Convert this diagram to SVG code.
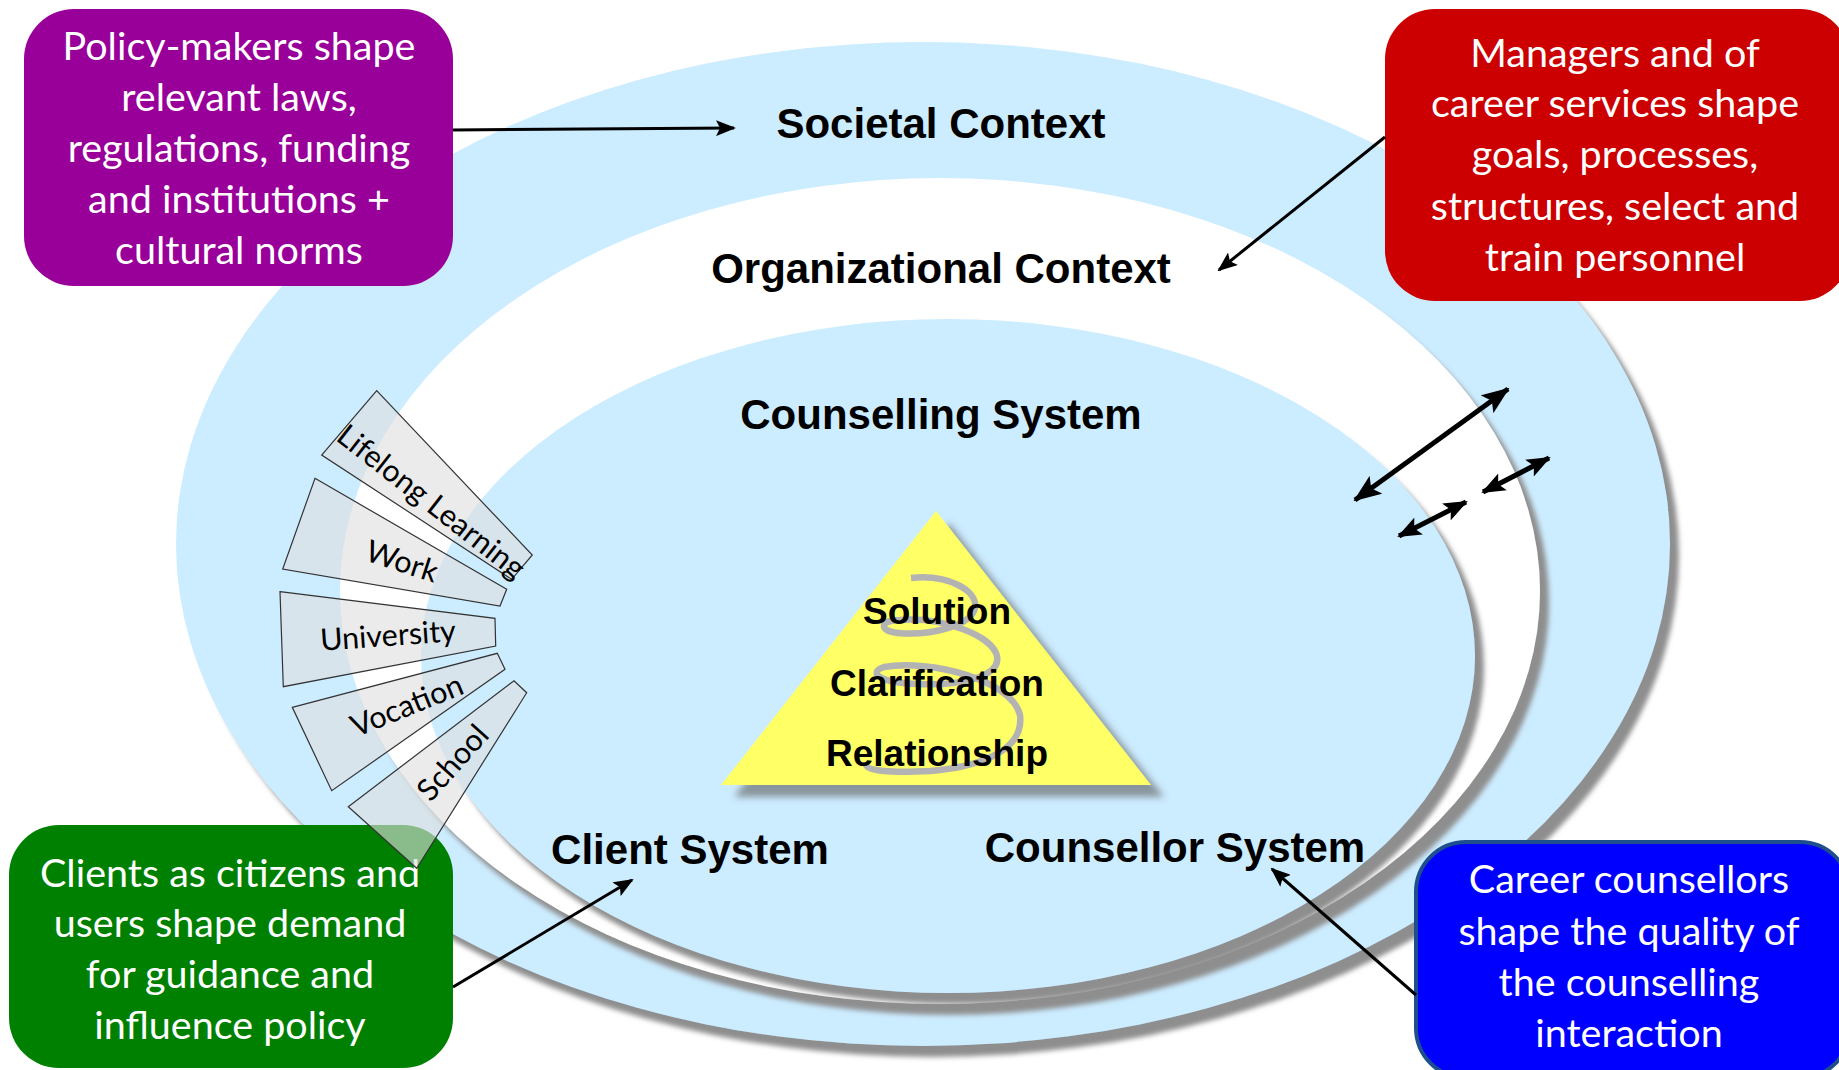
<svg xmlns="http://www.w3.org/2000/svg" width="1839" height="1070" viewBox="0 0 1839 1070">
<defs>
  <filter id="ellShadow" x="-5%" y="-5%" width="112%" height="112%">
    <feDropShadow dx="9" dy="11" stdDeviation="2.5" flood-color="#8e8e8e" flood-opacity="1"/>
  </filter>
  <filter id="triShadow" x="-10%" y="-10%" width="125%" height="130%">
    <feDropShadow dx="13" dy="12" stdDeviation="3.5" flood-color="#5a5a5a" flood-opacity="0.6"/>
  </filter>
  <marker id="arr" viewBox="0 0 20 16" refX="18" refY="8" markerWidth="20" markerHeight="16" markerUnits="userSpaceOnUse" orient="auto-start-reverse">
    <path d="M0,0 L20,8 L0,16 L4,8 Z" fill="#000"/>
  </marker>
  <marker id="arrBig" viewBox="0 0 28 22" refX="26" refY="11" markerWidth="28" markerHeight="22" markerUnits="userSpaceOnUse" orient="auto-start-reverse">
    <path d="M0,0 L28,11 L0,22 L6,11 Z" fill="#000"/>
  </marker>
  <marker id="arrMid" viewBox="0 0 24 19" refX="22" refY="9.5" markerWidth="24" markerHeight="19" markerUnits="userSpaceOnUse" orient="auto-start-reverse">
    <path d="M0,0 L24,9.5 L0,19 L5,9.5 Z" fill="#000"/>
  </marker>
  <style>
    .ctx { font-family: "Liberation Sans", Arial, sans-serif; font-weight: bold; font-size: 42px; fill: #000; text-anchor: middle; }
    .tri { font-family: "Liberation Sans", Arial, sans-serif; font-weight: bold; font-size: 37px; fill: #000; text-anchor: middle; }
    .box { font-family: Lato, "Noto Sans", sans-serif; font-size: 39.5px; fill: #fff; text-anchor: middle; }
    .fan { fill: #dedede; fill-opacity: 0.62; stroke: #333; stroke-width: 1.2; }
    .fant { font-family: Lato, "Noto Sans", sans-serif; font-size: 30.5px; fill: #000; text-anchor: middle; }
    .conn { stroke: #000; stroke-width: 3; fill: none; }
    .dbl { stroke: #000; stroke-width: 5; fill: none; }
  </style>
</defs>
<rect width="1839" height="1070" fill="#fff"/>

<g id="societal-context">
  <ellipse cx="923" cy="544" rx="747" ry="502" fill="#CCECFF" filter="url(#ellShadow)"/>
  <text class="ctx" x="941" y="138">Societal Context</text>
</g>
<g id="organizational-context">
  <ellipse cx="940" cy="591" rx="600" ry="413" fill="#fff" filter="url(#ellShadow)"/>
  <text class="ctx" x="941" y="283">Organizational Context</text>
</g>
<g id="counselling-system">
  <ellipse cx="948" cy="656" rx="527" ry="337" fill="#CCECFF" filter="url(#ellShadow)"/>
  <text class="ctx" x="941" y="429">Counselling System</text>
  <text class="ctx" x="690" y="864">Client System</text>
  <text class="ctx" x="1175" y="862">Counsellor System</text>
</g>

<g id="triangle">
  <polygon points="936,511 1151,785 721,785" fill="#FFFF66" filter="url(#triShadow)"/>
  <path d="M911,578 C947,574 978,590 975,608 C971,626 930,636 898,633 C878,631 880,620 900,620 C942,617 992,635 997,656 C1001,677 960,686 918,684 C878,683 868,672 884,667 C930,659 1012,680 1020,715 C1024,746 990,766 930,771 C890,773 868,771 866,765" fill="none" stroke="#b3b3b3" stroke-width="6.5"/>
  <text class="tri" x="937" y="624">Solution</text>
  <text class="tri" x="937" y="696">Clarification</text>
  <text class="tri" x="937" y="766">Relationship</text>
</g>

<g id="policy-box">
  <rect x="24" y="9" width="429" height="277" rx="50" fill="#990099"/>
  <text class="box" x="239" y="60">Policy-makers shape</text>
  <text class="box" x="239" y="111">relevant laws,</text>
  <text class="box" x="239" y="162">regulations, funding</text>
  <text class="box" x="239" y="213">and institutions +</text>
  <text class="box" x="239" y="264">cultural norms</text>
</g>
<g id="managers-box">
  <rect x="1385" y="9" width="465" height="292" rx="50" fill="#CC0000"/>
  <text class="box" x="1615" y="67">Managers and of</text>
  <text class="box" x="1615" y="117">career services shape</text>
  <text class="box" x="1615" y="168">goals, processes,</text>
  <text class="box" x="1615" y="220">structures, select and</text>
  <text class="box" x="1615" y="271">train personnel</text>
</g>
<g id="clients-box">
  <rect x="9" y="825" width="444" height="243" rx="50" fill="#008000"/>
  <text class="box" x="230" y="887">Clients as citizens and</text>
  <text class="box" x="230" y="937">users shape demand</text>
  <text class="box" x="230" y="988">for guidance and</text>
  <text class="box" x="230" y="1039">influence policy</text>
</g>
<g id="counsellors-box">
  <rect x="1416" y="842" width="434" height="236" rx="50" fill="#0000FF" stroke="#1f4e8c" stroke-width="4"/>
  <text class="box" x="1629" y="893">Career counsellors</text>
  <text class="box" x="1629" y="945">shape the quality of</text>
  <text class="box" x="1629" y="996">the counselling</text>
  <text class="box" x="1629" y="1047">interaction</text>
</g>

<g id="fan-lifelong-learning">
  <polygon class="fan" points="376.7,390.7 532.3,555 511.7,579.3 321.7,455"/>
  <text class="fant" transform="translate(431,502) rotate(38)" x="0" y="10">Lifelong Learning</text>
</g>
<g id="fan-work">
  <polygon class="fan" points="315,478.3 506.7,589.3 500,606 282.7,569"/>
  <text class="fant" transform="translate(402,562) rotate(18)" x="0" y="10">Work</text>
</g>
<g id="fan-university">
  <polygon class="fan" points="280,591.7 495,618.3 495.7,646 283.3,686.7"/>
  <text class="fant" transform="translate(388,636) rotate(-4)" x="0" y="10">University</text>
</g>
<g id="fan-vocation">
  <polygon class="fan" points="292.3,707.3 497.3,653.3 505,669.3 331.7,790.7"/>
  <text class="fant" transform="translate(407,706) rotate(-22)" x="0" y="10">Vocation</text>
</g>
<g id="fan-school">
  <polygon class="fan" points="348.3,806.7 514,680.7 526.7,692.7 416.7,868.3"/>
  <text class="fant" transform="translate(453,763) rotate(-48)" x="0" y="10">School</text>
</g>

<g id="connectors">
  <line class="conn" x1="453" y1="130" x2="734" y2="128" marker-end="url(#arr)"/>
  <line class="conn" x1="1385" y1="137" x2="1219" y2="270" marker-end="url(#arr)"/>
  <line class="conn" x1="453" y1="987" x2="632" y2="880" marker-end="url(#arr)"/>
  <line class="conn" x1="1416" y1="995" x2="1272" y2="869" marker-end="url(#arr)"/>
  <line class="dbl" x1="1355" y1="500" x2="1508" y2="389" marker-start="url(#arrBig)" marker-end="url(#arrBig)"/>
  <line class="dbl" x1="1483" y1="492" x2="1549" y2="458" marker-start="url(#arrMid)" marker-end="url(#arrMid)"/>
  <line class="dbl" x1="1399" y1="536" x2="1466" y2="502" marker-start="url(#arrMid)" marker-end="url(#arrMid)"/>
</g>
</svg>
